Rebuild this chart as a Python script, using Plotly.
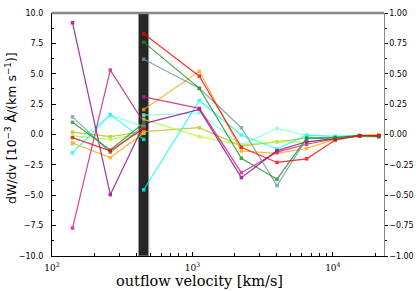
import plotly.graph_objects as go

# bin centres (km/s)
x_left = [140, 260, 450]
x_right = [450, 1120, 2230, 4000, 6500, 10400, 15500, 21200]

# dW/dv values (1e-3 A / (km/s)) -- left part (before band) and right part (after band)
red_l = [-0.26, -1.35, 0.5]
red_r = [8.3, 4.8, -1.05, -2.3, -2.0, -0.45, -0.1, -0.1]
green_l = [1.0, -1.28, 0.95]
green_r = [7.6, 3.8, -1.96, -3.68, -0.3, -0.25, -0.1, -0.15]
teal_l = [1.45, -1.47, 0.7]
teal_r = [6.2, 3.8, 0.56, -4.2, -0.35, -0.3, -0.15, -0.2]
orange_l = [-0.7, -1.9, 0.1]
orange_r = [2.05, 5.2, -1.36, -1.55, -1.14, -0.4, -0.1, -0.05]
cyan_l = [-1.5, 1.63, -0.4]
cyan_r = [-4.55, 2.8, -0.04, -1.19, -0.05, -0.15, -0.1, -0.15]
aqua_l = [-0.8, 1.6, 0.65]
aqua_r = [1.6, 1.75, -0.86, 0.5, -0.1, -0.55, -0.05, -0.1]
purple_l = [9.2, -4.95, 0.8]
purple_r = [0.9, 2.07, -3.55, -1.33, -0.6, -0.35, -0.1, -0.1]
magenta_l = [-7.7, 5.3, 1.0]
magenta_r = [3.1, 2.15, -3.14, -1.45, -0.8, -0.35, -0.1, -0.1]
olive_l = [0.2, -0.18, 0.23]
olive_r = [0.23, 0.56, -0.95, -0.59, -0.3, -0.2, -0.05, -0.05]
lime_l = [-0.12, -0.4, 0.1]
lime_r = [1.25, -0.18, -0.86, -0.6, -0.65, -0.3, -0.05, -0.05]

band = [413, 488]

x_ticks = [100, 1000, 10000]
x_ticktext = ["10<sup>2</sup>", "10<sup>3</sup>", "10<sup>4</sup>"]

series = [
    ("olive", olive_l, olive_r, "#bcbd22"),
    ("lime", lime_l, lime_r, "#adff2f"),
    ("aqua", aqua_l, aqua_r, "#7fffd4"),
    ("cyan", cyan_l, cyan_r, "#00ffff"),
    ("orange", orange_l, orange_r, "#ffa500"),
    ("purple", purple_l, purple_r, "#8b008b"),
    ("magenta", magenta_l, magenta_r, "#c71585"),
    ("teal", teal_l, teal_r, "#5f9ea0"),
    ("green", green_l, green_r, "#228b22"),
    ("red", red_l, red_r, "#ff0000"),
]

fig = go.Figure()
for name, yl, yr, col in series:
    fig.add_trace(go.Scatter(
        x=x_left + [None] + x_right,
        y=yl + [None] + yr,
        mode="lines+markers",
        name=name,
        line=dict(color=col, width=1.2),
        marker=dict(color=col, size=3.5, symbol="square"),
        opacity=0.8,
        connectgaps=False,
        showlegend=False,
    ))

# invisible trace for right axis
fig.add_trace(go.Scatter(x=[100], y=[0], yaxis="y2", mode="markers",
                         marker=dict(opacity=0), showlegend=False, hoverinfo="skip"))

fig.add_shape(type="rect", xref="x", yref="paper", x0=band[0], x1=band[1], y0=0, y1=1,
              fillcolor="rgba(20,20,20,0.92)", line=dict(color="#999999", width=1), layer="below")
fig.add_shape(type="line", xref="paper", yref="paper", x0=0, x1=1, y0=1, y1=1,
              line=dict(color="#888888", width=2.5))

font_sans = "DejaVu Sans"
font_serif = "DejaVu Serif"

# axis titles as annotations (pixel placement)
W, H = 416, 291
L, R, T, B = 52, 32, 13, 35
pw, ph = W - L - R, H - T - B

fig.add_annotation(text="outflow velocity [km/s]", xref="paper", yref="paper",
                   x=(199 - L) / pw, y=-(281 - (T + ph)) / ph, showarrow=False,
                   xanchor="center", yanchor="middle",
                   font=dict(family=font_serif, size=14.5, color="black"))
fig.add_annotation(text="dW/dv [10<sup>−3</sup> Å/(km s<sup>−1</sup>)]", xref="paper", yref="paper",
                   x=(11 - L) / pw, y=((T + ph) - 128) / ph, showarrow=False, textangle=-90,
                   xanchor="center", yanchor="middle",
                   font=dict(family=font_sans, size=12.5, color="black"))

fig.update_layout(
    width=W, height=H,
    margin=dict(l=L, r=R, t=T, b=B),
    paper_bgcolor="white", plot_bgcolor="white",
    xaxis=dict(
        type="log", range=[2, 4.364], automargin=False,
        tickvals=x_ticks, ticktext=x_ticktext,
        ticks="inside", ticklen=4, tickcolor="black",
        tickfont=dict(family=font_serif, size=9, color="black"),
        ticklabelstandoff=3,
        showline=True, linecolor="black", linewidth=1.2,
        showgrid=False, zeroline=False,
        minor=dict(tickvals=[200, 300, 400, 500, 600, 700, 800, 900,
                             2000, 3000, 4000, 5000, 6000, 7000, 8000, 9000, 20000],
                   ticks="inside", ticklen=2.5, tickcolor="black", showgrid=False),
    ),
    yaxis=dict(
        range=[-10, 10], dtick=2.5, tickformat=".1f", automargin=False,
        ticks="inside", ticklen=4, tickcolor="black",
        tickfont=dict(family=font_sans, size=8, color="black"),
        ticklabelstandoff=6,
        showline=True, linecolor="black", linewidth=1.2,
        showgrid=False, zeroline=False,
        minor=dict(dtick=1.25, ticks="inside", ticklen=2, tickcolor="black", showgrid=False),
    ),
    yaxis2=dict(
        overlaying="y", side="right", range=[-1, 1], dtick=0.25, tickformat=".2f",
        automargin=False,
        ticks="outside", ticklen=2.5, tickcolor="black",
        tickfont=dict(family=font_sans, size=8, color="black"),
        showline=True, linecolor="#888888", linewidth=1.2,
        showgrid=False, zeroline=False,
        minor=dict(dtick=0.125, ticks="outside", ticklen=1.5, tickcolor="black", showgrid=False),
    ),
)

fig.write_html("out.html", config={"displayModeBar": False},
               post_script="document.body.style.margin='0';document.body.style.overflow='hidden';")
